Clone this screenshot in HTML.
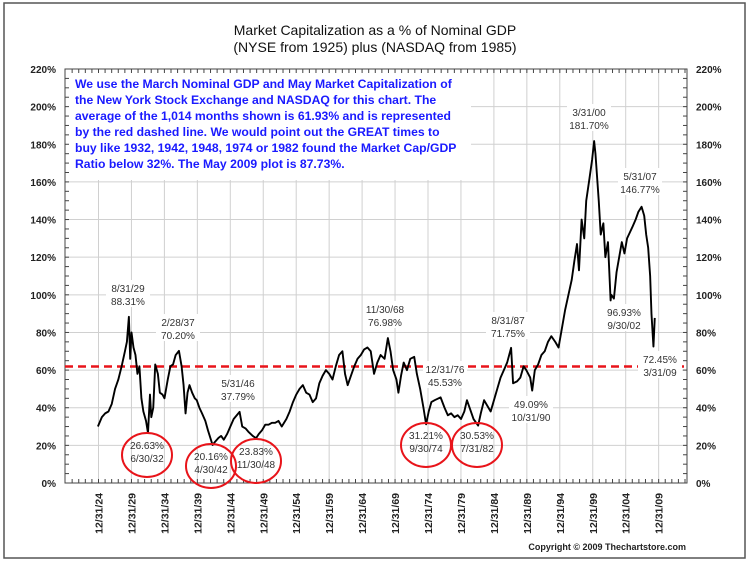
<!DOCTYPE html>
<html><head><meta charset="utf-8"><style>
body{margin:0;background:#fff;}
svg{display:block;font-family:"Liberation Sans",Arial,sans-serif;}
.lab{font-size:10px;fill:#333;text-anchor:middle;}
</style></head><body>
<svg id="chart" width="750" height="562" viewBox="0 0 750 562">
<rect x="4" y="3" width="741" height="555" fill="#fff" stroke="#555" stroke-width="1.5"/>
<text x="375" y="35" font-size="14" text-anchor="middle" fill="#111">Market Capitalization as a % of Nominal GDP</text>
<text x="375" y="52" font-size="14" text-anchor="middle" fill="#111">(NYSE from 1925) plus (NASDAQ from 1985)</text>
<g id="grid"></g>
<rect x="66" y="70" width="405" height="110" fill="#fff"/>
<g font-size="12.2" font-weight="bold" fill="#1a1aff">
<text x="75" y="88">We use the March Nominal GDP and May Market Capitalization of</text>
<text x="75" y="104">the New York Stock Exchange and NASDAQ for this chart.  The</text>
<text x="75" y="120">average of the 1,014 months shown is 61.93% and is represented</text>
<text x="75" y="136">by the red dashed line.  We would point out the GREAT times to</text>
<text x="75" y="152">buy like 1932, 1942, 1948, 1974 or 1982 found the Market Cap/GDP</text>
<text x="75" y="168">Ratio below 32%.  The May 2009 plot is 87.73%.</text>
</g>
<g id="axes"></g>
<g id="series"></g>
<g id="annot"></g>
<text x="686" y="550" font-size="9" font-weight="bold" text-anchor="end" fill="#222">Copyright © 2009 Thechartstore.com</text>
</svg>
<script>
const years=[1924.9,1925.5,1926,1926.5,1927,1927.5,1928,1928.5,1929,1929.3,1929.6,1929.8,1930,1930.3,1930.6,1930.9,1931.2,1931.5,1931.8,1932.2,1932.5,1932.8,1933,1933.3,1933.6,1934,1934.3,1934.7,1935,1935.5,1935.9,1936.3,1936.7,1937.2,1937.6,1937.9,1938.2,1938.5,1938.8,1939.2,1939.6,1939.9,1940.3,1940.7,1941.2,1941.6,1942.3,1942.7,1943.2,1943.6,1944,1944.5,1945,1945.5,1946.4,1946.8,1947.3,1947.8,1948.4,1948.9,1949.3,1949.8,1950.3,1950.8,1951.3,1951.8,1952.3,1952.8,1953.5,1954,1954.5,1955,1955.5,1956,1956.5,1957,1957.5,1958,1958.5,1959,1959.5,1960,1960.5,1961,1961.5,1962,1962.4,1962.8,1963.3,1963.8,1964.3,1964.8,1965.3,1965.8,1966.3,1966.8,1967.3,1967.8,1968.4,1968.9,1969.3,1969.7,1970.2,1970.5,1970.9,1971.3,1971.8,1972.3,1972.9,1973.3,1973.8,1974.3,1974.7,1975.1,1975.5,1976,1976.9,1977.5,1978,1978.5,1979,1979.5,1980,1980.5,1980.9,1981.3,1981.9,1982.6,1983,1983.5,1984,1984.5,1985,1985.5,1986,1986.5,1987,1987.6,1987.9,1988.5,1989,1989.5,1989.9,1990.5,1990.8,1991.2,1991.7,1992.2,1992.7,1993.2,1993.7,1994.3,1994.8,1995.3,1995.8,1996.3,1996.8,1997.2,1997.6,1997.9,1998.3,1998.7,1999,1999.5,1999.9,2000.2,2000.4,2000.7,2000.9,2001.2,2001.6,2001.9,2002.3,2002.7,2002.8,2003.2,2003.6,2004,2004.4,2004.8,2005.2,2005.6,2006,2006.5,2006.9,2007.4,2007.8,2008.1,2008.4,2008.7,2008.9,2009.2,2009.4];
const values=[30,35,37,38,42,50,55,62,70,75,88.3,66,80,72,68,58,62,45,38,33,26.6,47,35,40,63,58,48,47,45,55,62,63,68,70.2,62,52,37,48,52,48,45,44,40,37,33,28,20.2,22,24,25,23,26,30,34,37.8,30,29,27,25,23.8,26,28,31,31,32,32,33,30,34,38,43,47,50,52,48,47,43,45,53,57,60,58,55,62,68,70,58,52,57,62,66,68,71,72,70,58,64,68,66,77,70,60,55,48,57,64,60,66,67,58,50,40,31.2,38,43,44,45.5,40,36,37,35,36,34,38,44,40,34,30.5,37,44,41,38,44,50,56,60,64,71.8,53,54,56,62,60,56,49.1,60,63,68,70,75,78,75,72,82,92,100,108,118,127,113,140,130,150,162,172,181.7,175,160,150,132,138,120,128,97,100,98,112,120,128,122,130,133,136,140,144,146.8,142,132,125,110,90,72.5,87.7];
const yTicks=[0,20,40,60,80,100,120,140,160,180,200,220];
const xTickYears=[1924,1929,1934,1939,1944,1949,1954,1959,1964,1969,1974,1979,1984,1989,1994,1999,2004,2009];
const average=[61.93];
const annLabels=[["8/31/29","88.31%",128,289],["2/28/37","70.20%",178,323],["5/31/46","37.79%",238,384],["11/30/68","76.98%",385,310],["12/31/76","45.53%",445,370],["8/31/87","71.75%",508,321],["49.09%","10/31/90",531,405],["3/31/00","181.70%",589,113],["5/31/07","146.77%",640,177],["96.93%","9/30/02",624,313],["72.45%","3/31/09",660,360]];
const circLabels=[["26.63%","6/30/32",147,455],["20.16%","4/30/42",211,466],["23.83%","11/30/48",256,461],["31.21%","9/30/74",426,445],["30.53%","7/31/82",477,445]];
const NS="http://www.w3.org/2000/svg";
const L=65,R=687,T=69,B=483;
const x=yr=>98.5+(yr-1924.99)*6.59;
const y=v=>B-(v/220)*(B-T);
function mk(tag,attrs,parent){const e=document.createElementNS(NS,tag);for(const k in attrs)e.setAttribute(k,attrs[k]);parent.appendChild(e);return e;}
const grid=document.getElementById('grid'),axes=document.getElementById('axes'),series=document.getElementById('series'),annot=document.getElementById('annot');
yTicks.forEach(v=>{
 const g=mk('line',{x1:L,x2:R,y1:y(v),y2:y(v),stroke:'#d0d0d0','stroke-width':1},grid);
 
 
 const t1=mk('text',{x:56,y:y(v)+4,'font-size':10,'font-weight':'bold','text-anchor':'end',fill:'#222'},axes);t1.textContent=v+'%';
 
 
 const t2=mk('text',{x:696,y:y(v)+4,'font-size':10,'font-weight':'bold',fill:'#222'},axes);t2.textContent=v+'%';
 
 
});
for(let v=0;v<=220;v+=5){mk('line',{x1:L,x2:L+4,y1:y(v),y2:y(v),stroke:'#444'},axes);mk('line',{x1:R-4,x2:R,y1:y(v),y2:y(v),stroke:'#444'},axes);}
for(let yr=1920;yr<=2013;yr++){const xx=x(yr+0.99);if(xx<L||xx>R)continue;mk('line',{x1:xx,x2:xx,y1:B,y2:B-4,stroke:'#444'},axes);mk('line',{x1:xx,x2:xx,y1:T,y2:T+4,stroke:'#444'},axes);}
xTickYears.forEach(yr=>{
 const xx=x(yr+0.99);
 const g=mk('line',{x1:xx,x2:xx,y1:T,y2:B,stroke:'#d0d0d0'},grid);
 
 
 const t=mk('text',{x:0,y:0,'font-size':10.5,'font-weight':'bold','text-anchor':'end',fill:'#222',transform:`translate(${xx+4},${B+10}) rotate(-90)`},axes);
 t.textContent='12/31/'+String(yr).slice(2);
 
 
});
const fr=mk('rect',{x:L,y:T,width:R-L,height:B-T,fill:'none',stroke:'#444'},axes);


const avg=mk('line',{x1:L,x2:R,y1:y(average[0]),y2:y(average[0]),stroke:'#e8141a','stroke-width':2.5,'stroke-dasharray':'8,5'},series);


const p=mk('polyline',{points:years.map((yr,i)=>x(yr)+','+y(values[i])).join(' '),fill:'none',stroke:'#000','stroke-width':1.9,'stroke-linejoin':'round'},series);


function label(a,b,cx,cy,bg){
 if(bg){const r=mk('rect',{x:cx-22,y:cy-9,width:44,height:27,fill:'#fff'},annot);}
 const t1=mk('text',{x:cx,y:cy+3,class:'lab'},annot);t1.textContent=a;
 
 
 const t2=mk('text',{x:cx,y:cy+16,class:'lab'},annot);t2.textContent=b;
 
 
}
annLabels.forEach(a=>label(a[0],a[1],a[2],a[3],true));
circLabels.forEach(c=>{
 const e=mk('ellipse',{cx:c[2],cy:c[3],rx:25,ry:22,fill:'none',stroke:'#e8141a','stroke-width':2},annot);
 
 
 label(c[0],c[1],c[2],c[3]-9,false);
});
</script>
</body></html>
